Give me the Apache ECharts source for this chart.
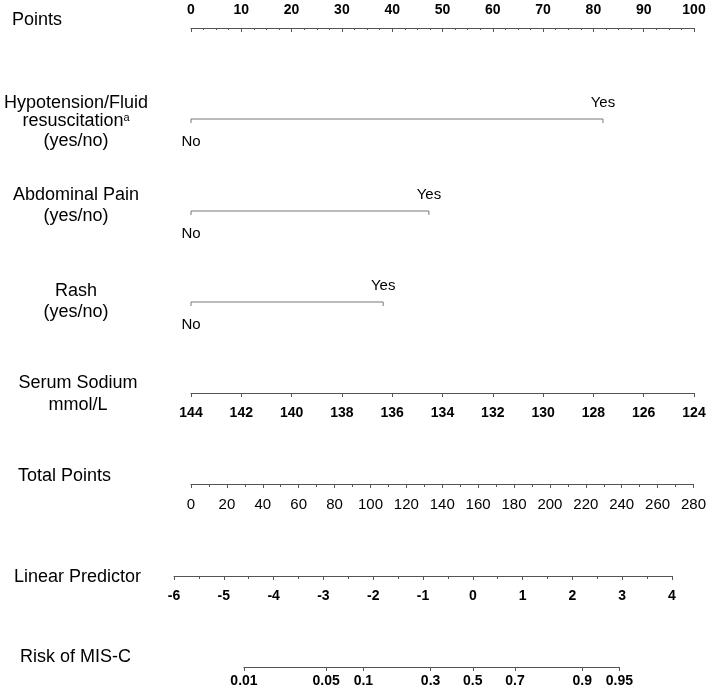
<!DOCTYPE html>
<html><head><meta charset="utf-8">
<script src="https://cdn.jsdelivr.net/npm/echarts@6/dist/echarts.min.js"></script>
<style>html,body{margin:0;padding:0;background:#fff}#c{width:709px;height:696px}</style>
</head><body><div id="c"></div>
<script>
// ---- data ----
var pointsTicks = [0,10,20,30,40,50,60,70,80,90,100];
var binaryVars = ['Hypotension/Fluid resuscitation', 'Abdominal Pain', 'Rash'];
var binaryYesPoints = [81.9, 47.3, 38.2];
var binaryLevels = ['No', 'Yes'];
var sodiumRange = [124, 144];
var sodiumTicks = [144,142,140,138,136,134,132,130,128,126,124];
var totalRange = [0, 280];
var totalTicks = [0,20,40,60,80,100,120,140,160,180,200,220,240,260,280];
var lpRange = [-6, 4];
var lpTicks = [-6,-5,-4,-3,-2,-1,0,1,2,3,4];
var riskTicks = [0.01,0.05,0.1,0.3,0.5,0.7,0.9,0.95];

// ---- layout ----
var FONT = '"Liberation Sans", Arial, sans-serif';
var ptsLeft = 191, ptsRight = 694;
var lpLeft = 174, lpRightPx = 672;
var rowY = {points:27, hypo:119, abd:211, rash:302, sodium:393, total:484, lp:576, risk:667};
function logit(p){ return Math.log(p/(1-p)); }
var lpScale = (lpRightPx - lpLeft) / (lpRange[1]-lpRange[0]);
function lpToPx(v){ return lpLeft + (v - lpRange[0]) * lpScale; }
var riskL = logit(riskTicks[0]), riskR = logit(riskTicks[riskTicks.length-1]);

var lineColor = '#555';
var labelBase = {color:'#000', fontSize:14, fontFamily:FONT, fontWeight:'bold'};

var grids = [], xAxes = [], yAxes = [], series = [];
function addAxisRow(y, left, rightPx, axisCfg, pos){
  var gi = grids.length;
  if (pos === 'top') grids.push({left:left, width:rightPx-left, top:y, height:1});
  else grids.push({left:left, width:rightPx-left, top:y-1, height:1});
  var ax = Object.assign({
    gridIndex:gi, type:'value', position:pos,
    axisLine:{show:true, lineStyle:{color:lineColor, width:1}},
    splitLine:{show:false}
  }, axisCfg);
  xAxes.push(ax);
  yAxes.push({gridIndex:gi, show:false, min:0, max:1});
  return gi;
}

// Points axis
addAxisRow(rowY.points, ptsLeft, ptsRight, {
  min:0, max:100, interval:10,
  axisTick:{show:true, inside:true, length:4, lineStyle:{color:lineColor}},
  minorTick:{show:true, splitNumber:4, length:2, lineStyle:{color:lineColor}},
  axisLabel:Object.assign({margin:10, customValues:pointsTicks}, labelBase)
}, 'top');

// binary rows
var binRows = [rowY.hypo, rowY.abd, rowY.rash];
binRows.forEach(function(y, i){
  var gi = grids.length;
  grids.push({left:ptsLeft, width:ptsRight-ptsLeft, top:y-20, height:40});
  xAxes.push({gridIndex:gi, type:'value', min:0, max:100, show:false});
  yAxes.push({gridIndex:gi, type:'value', min:-1, max:1, show:false});
  series.push({
    type:'line', xAxisIndex:gi, yAxisIndex:gi, silent:true,
    symbol:'rect', symbolSize:[1,4], symbolOffset:[0,2],
    itemStyle:{color:'#777'},
    lineStyle:{color:'#777', width:1},
    data:[
      {value:[0,0], label:{show:true, position:'bottom', distance:11, formatter:binaryLevels[0]}},
      {value:[binaryYesPoints[i],0], label:{show:true, position:'top', distance:9, formatter:binaryLevels[1]}}
    ],
    label:{color:'#000', fontSize:15, fontFamily:FONT}
  });
});

// Serum sodium
addAxisRow(rowY.sodium, ptsLeft, ptsRight, {
  min:sodiumRange[0], max:sodiumRange[1], interval:2, inverse:true,
  axisTick:{show:true, length:4, lineStyle:{color:lineColor}},
  axisLabel:Object.assign({margin:13, customValues:sodiumTicks}, labelBase)
}, 'bottom');

// Total points
addAxisRow(rowY.total, ptsLeft, ptsRight, {
  min:totalRange[0], max:totalRange[1], interval:20,
  axisTick:{show:true, length:4, lineStyle:{color:lineColor}},
  minorTick:{show:true, splitNumber:2, length:3, lineStyle:{color:lineColor}},
  axisLabel:Object.assign({margin:13, customValues:totalTicks}, labelBase, {fontWeight:'normal', fontSize:15})
}, 'bottom');

// Linear predictor
addAxisRow(rowY.lp, lpLeft, lpRightPx, {
  min:lpRange[0], max:lpRange[1], interval:1,
  axisTick:{show:true, length:4, lineStyle:{color:lineColor}},
  minorTick:{show:true, splitNumber:2, length:3, lineStyle:{color:lineColor}},
  axisLabel:Object.assign({margin:13, customValues:lpTicks}, labelBase)
}, 'bottom');

// Risk
var riskLogits = riskTicks.map(logit);
addAxisRow(rowY.risk, lpToPx(riskL), lpToPx(riskR), {
  min:riskL, max:riskR,
  axisTick:{show:true, length:4, customValues:riskLogits, lineStyle:{color:lineColor}},
  axisLabel:Object.assign({margin:7, customValues:riskLogits, formatter:function(v){
    var best = 0, bd = 1e9;
    riskLogits.forEach(function(l, k){ var d = Math.abs(l - v); if (d < bd){bd = d; best = k;} });
    return String(riskTicks[best]);
  }}, labelBase)
}, 'bottom');

// left labels
var CX = 76;
function txt(text, x, y, align, rich){
  var s = {text:text, x:x, y:y, textAlign:align, textVerticalAlign:'middle',
    fontSize:18, fontFamily:FONT, fill:'#000'};
  if (rich) s.rich = rich;
  return {type:'text', style:s};
}
var graphics = [
  txt('Points', 12, 20, 'left'),
  txt('Hypotension/Fluid', CX, 103, 'center'),
  txt('resuscitation{s|a}', CX, 121, 'center', {s:{fontSize:11, fontFamily:FONT, verticalAlign:'top', lineHeight:18}}),
  txt('(yes/no)', CX, 141, 'center'),
  txt('Abdominal Pain', CX, 195, 'center'),
  txt('(yes/no)', CX, 216, 'center'),
  txt('Rash', CX, 291, 'center'),
  txt('(yes/no)', CX, 312, 'center'),
  txt('Serum Sodium', CX + 2, 383, 'center'),
  txt('mmol/L', CX + 2, 405, 'center'),
  txt('Total Points', 18, 476, 'left'),
  txt('Linear Predictor', 14, 577, 'left'),
  txt('Risk of MIS-C', 20, 657, 'left')
];

var chart = echarts.init(document.getElementById('c'), null, {renderer:'canvas'});
chart.setOption({
  animation:false,
  backgroundColor:'#fff',
  grid:grids, xAxis:xAxes, yAxis:yAxes, series:series,
  graphic:graphics
});
</script></body></html>
